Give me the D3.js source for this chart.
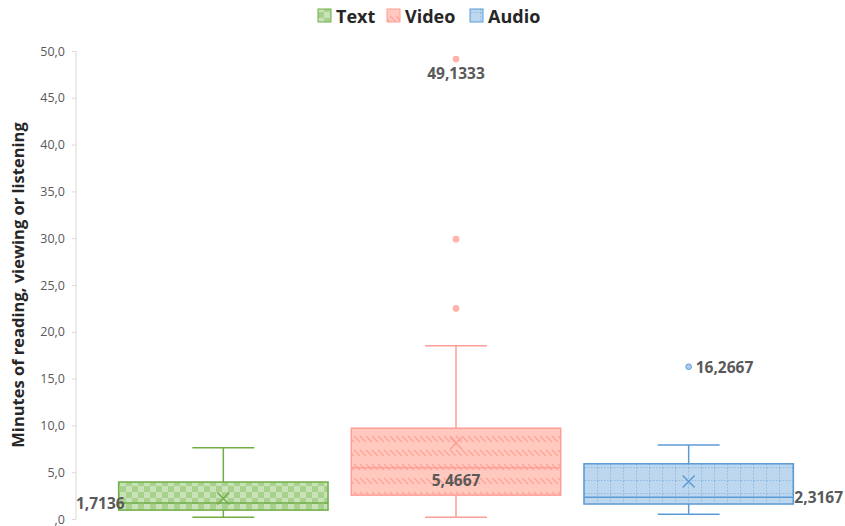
<!DOCTYPE html>
<html>
<head>
<meta charset="utf-8">
<script src="https://cdn.jsdelivr.net/npm/d3@7"></script>
<style>
  body { margin: 0; background: #fff; }
  svg { display: block; font-family: "Open Sans", "Noto Sans", sans-serif; }
</style>
</head>
<body>
<svg id="chart" width="845" height="526"></svg>
<script>
/************************************ Data *******************************/
var categories = ["Text", "Video", "Audio"];
var whiskerLow = [0.2, 0.2, 0.5];
var quart1 = [0.95, 2.55, 1.6];
var medians = [1.7136, 5.4667, 2.3167];
var quart3 = [3.95, 9.7, 5.9];
var whiskerHigh = [7.6, 18.5, 7.9];
var means = [2.2, 8.1, 4.0];
var outliers = [[], [22.5, 29.9, 49.1333], [16.2667]];
var labelledOutliers = [null, 49.1333, 16.2667];
var yTicks = [0, 5, 10, 15, 20, 25, 30, 35, 40, 45, 50];
var yTitle = "Minutes of reading, viewing or listening";

/************************************ Style *******************************/
var fills = ["url(#patText)", "url(#patVideo)", "url(#patAudio)"];
var strokes = ["#70ad47", "#ff9e96", "#5b9bd5"];
var dotFills = ["#70ad47", "#ffb3ab", "#5b9bd5"];
var textCol = "#595959";

var fmt = function(v) {
	if (v === 0) return ",0";
	return d3.format(".1f")(v).replace(".", ",");
};
var fmtLabel = function(v) { return String(v).replace(".", ","); };

var svg = d3.select("#chart");

/************************************ Patterns *******************************/
var defs = svg.append("defs");

var pt = defs.append("pattern").attr("id", "patText")
	.attr("patternUnits", "userSpaceOnUse").attr("width", 12).attr("height", 12);
pt.append("rect").attr("width", 12).attr("height", 12).attr("fill", "#a9d18e");
pt.append("rect").attr("width", 6).attr("height", 6).attr("fill", "#c9e2b8");
pt.append("rect").attr("x", 6).attr("y", 6).attr("width", 6).attr("height", 6).attr("fill", "#c9e2b8");

var pv = defs.append("pattern").attr("id", "patVideo")
	.attr("patternUnits", "userSpaceOnUse").attr("width", 6).attr("height", 14);
pv.append("rect").attr("width", 6).attr("height", 14).attr("fill", "#ffc9bf");
pv.append("path").attr("d", "M0,2 L6,8").attr("stroke", "#ff9f93").attr("stroke-width", 1.2);

var pa = defs.append("pattern").attr("id", "patAudio")
	.attr("patternUnits", "userSpaceOnUse").attr("width", 13).attr("height", 13);
pa.append("rect").attr("width", 13).attr("height", 13).attr("fill", "#bdd7ee");
pa.append("path").attr("d", "M0,12.5 H13 M12.5,0 V13").attr("stroke", "#8fbbe3")
	.attr("stroke-width", 1).attr("stroke-dasharray", "1.5,1.5");

/************************************ Scales *******************************/
var y = d3.scaleLinear().domain([0, 50]).range([519, 51]);
var x = d3.scaleBand().domain(categories).range([107, 805]).paddingInner(0.1).paddingOuter(0.05);
var bw = x.bandwidth();
var capW = 62;

/************************************ Axis *******************************/
var axisG = svg.append("g").attr("transform", "translate(76,0)")
	.call(d3.axisLeft(y).tickValues(yTicks).tickFormat(fmt).tickSize(4).tickPadding(7));
axisG.select(".domain").attr("stroke", "#d9d9d9").attr("d", "M0," + y(50) + "V" + y(0));
axisG.selectAll(".tick line").attr("stroke", "#d9d9d9");
axisG.selectAll(".tick text").attr("fill", textCol).attr("font-size", 12.5)
	.attr("font-family", "\"Open Sans\", sans-serif");

svg.append("text")
	.attr("transform", "translate(24," + ((y(0) + y(50)) / 2) + ") rotate(-90)")
	.attr("text-anchor", "middle")
	.attr("font-size", 16.5).attr("font-weight", "bold").attr("fill", "#262626")
	.text(yTitle);

/************************************ Boxes *******************************/
categories.forEach(function(c, i) {
	var g = svg.append("g").attr("class", "box-" + c);
	var cx = x(c) + bw / 2;

	// whiskers
	g.append("line").attr("x1", cx).attr("x2", cx)
		.attr("y1", y(quart3[i])).attr("y2", y(whiskerHigh[i]))
		.attr("stroke", strokes[i]).attr("stroke-width", 1.5);
	g.append("line").attr("x1", cx).attr("x2", cx)
		.attr("y1", y(quart1[i])).attr("y2", y(whiskerLow[i]))
		.attr("stroke", strokes[i]).attr("stroke-width", 1.5);
	[whiskerHigh[i], whiskerLow[i]].forEach(function(v) {
		g.append("line").attr("x1", cx - capW / 2).attr("x2", cx + capW / 2)
			.attr("y1", y(v)).attr("y2", y(v))
			.attr("stroke", strokes[i]).attr("stroke-width", 1.5);
	});

	// box
	g.append("rect").attr("x", x(c)).attr("width", bw)
		.attr("y", y(quart3[i])).attr("height", y(quart1[i]) - y(quart3[i]))
		.attr("fill", fills[i]).attr("stroke", strokes[i]).attr("stroke-width", 1.5);
	g.append("line").attr("x1", x(c)).attr("x2", x(c) + bw)
		.attr("y1", y(medians[i])).attr("y2", y(medians[i]))
		.attr("stroke", strokes[i]).attr("stroke-width", 1.5);

	// mean marker
	var m = 6, my = y(means[i]);
	g.append("path")
		.attr("d", "M" + (cx - m) + "," + (my - m) + "L" + (cx + m) + "," + (my + m) +
			"M" + (cx - m) + "," + (my + m) + "L" + (cx + m) + "," + (my - m))
		.attr("stroke", strokes[i]).attr("stroke-width", 1.5).attr("fill", "none");

	// outliers
	g.selectAll("circle.out").data(outliers[i]).enter().append("circle")
		.attr("class", "out").attr("cx", cx).attr("cy", function(d) { return y(d); })
		.attr("r", i === 2 ? 2.8 : 3.4)
		.attr("fill", i === 2 ? "#a9cdee" : dotFills[i])
		.attr("stroke", i === 2 ? "#5b9bd5" : "none").attr("stroke-width", 1);
});

/************************************ Labels *******************************/
var labelStyle = function(t) {
	return t.attr("font-size", 15.5).attr("font-weight", "bold").attr("fill", textCol)
		.attr("dominant-baseline", "central");
};

// Text median: left of the box
labelStyle(svg.append("text")
	.attr("x", x("Text") + 6).attr("y", y(medians[0]))
	.attr("text-anchor", "end").text(fmtLabel(medians[0])));
// Video median: below the line, centred
labelStyle(svg.append("text")
	.attr("x", x("Video") + bw / 2).attr("y", y(medians[1]) + 12)
	.attr("text-anchor", "middle").text(fmtLabel(medians[1])));
// Audio median: right of the box
labelStyle(svg.append("text")
	.attr("x", x("Audio") + bw + 1).attr("y", y(medians[2]))
	.attr("text-anchor", "start").text(fmtLabel(medians[2])));
// Video max outlier: below the dot
labelStyle(svg.append("text")
	.attr("x", x("Video") + bw / 2).attr("y", y(labelledOutliers[1]) + 14)
	.attr("text-anchor", "middle").text(fmtLabel(labelledOutliers[1])));
// Audio outlier: right of the dot
labelStyle(svg.append("text")
	.attr("x", x("Audio") + bw / 2 + 7).attr("y", y(labelledOutliers[2]))
	.attr("text-anchor", "start").text(fmtLabel(labelledOutliers[2])));

/************************************ Legend *******************************/
var legendX = [318, 387, 470];
var leg = svg.append("g").attr("class", "legend");
categories.forEach(function(c, i) {
	leg.append("rect").attr("x", legendX[i]).attr("y", 9).attr("width", 13).attr("height", 13)
		.attr("fill", fills[i]).attr("stroke", strokes[i]).attr("stroke-width", 1);
	leg.append("text").attr("x", legendX[i] + 18).attr("y", 16)
		.attr("dominant-baseline", "central")
		.attr("font-size", 18).attr("font-weight", "bold").attr("fill", "#262626")
		.text(c);
});
</script>
</body>
</html>
